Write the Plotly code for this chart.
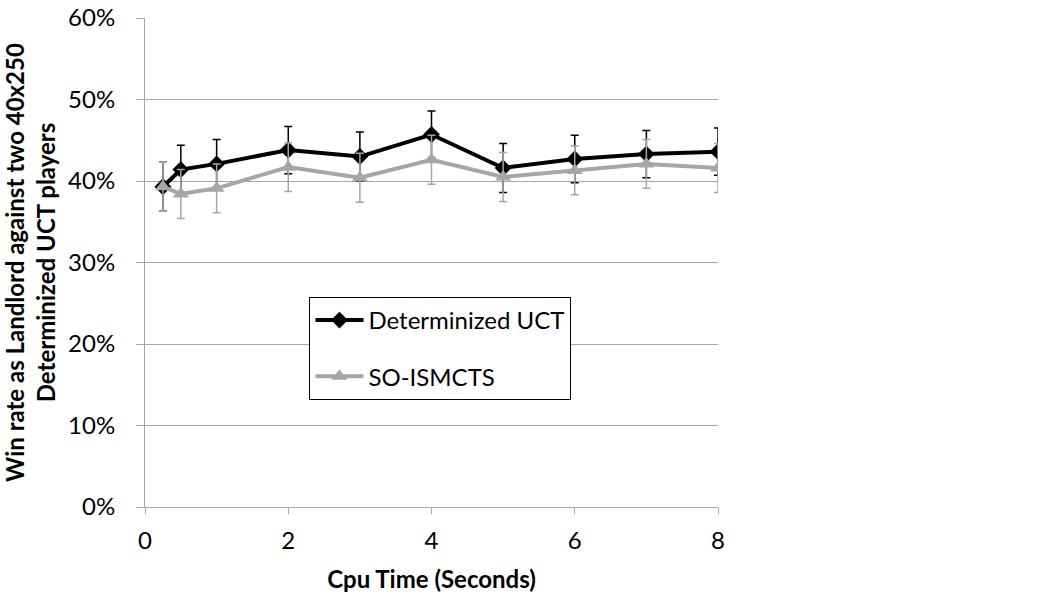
import plotly.graph_objects as go

# CPU time per move (seconds)
cpu_time = [0.25, 0.5, 1, 2, 3, 4, 5, 6, 7, 8]

# Win rate (%) as Landlord against two 40x250 Determinized UCT players
det_uct = [39.3, 41.4, 42.1, 43.8, 43.0, 45.7, 41.6, 42.7, 43.3, 43.6]
det_uct_err = [3.0, 3.0, 3.0, 2.9, 3.0, 2.9, 3.0, 2.9, 2.9, 2.9]

so_ismcts = [39.3, 38.4, 39.1, 41.7, 40.4, 42.6, 40.5, 41.3, 42.1, 41.6]
so_ismcts_err = [3.0, 3.0, 3.0, 3.0, 3.0, 3.0, 3.0, 3.0, 3.0, 3.0]

y_ticks = [0, 10, 20, 30, 40, 50, 60]
x_ticks = [0, 2, 4, 6, 8]

FONT = "Lato"
SIZE = 24
GRID = "#a6a6a6"

fig = go.Figure()

fig.add_trace(go.Scatter(
    x=cpu_time, y=det_uct, name="Determinized UCT", legendgroup="a",
    mode="lines+markers",
    line=dict(color="#000000", width=4),
    marker=dict(symbol="diamond", size=13, color="#000000"),
    error_y=dict(type="data", array=det_uct_err, visible=True,
                 color="#000000", thickness=1.5, width=4),
))

fig.add_trace(go.Scatter(
    x=cpu_time, y=so_ismcts, name="SO-ISMCTS", legendgroup="b",
    mode="lines+markers",
    line=dict(color="#a6a6a6", width=4),
    marker=dict(symbol="triangle-up", size=14, color="#a6a6a6"),
    error_y=dict(type="data", array=so_ismcts_err, visible=True,
                 color="#a6a6a6", thickness=1.5, width=4),
))

fig.update_layout(
    width=1055, height=597,
    margin=dict(l=145, r=337, t=18, b=90, autoexpand=False),
    paper_bgcolor="white", plot_bgcolor="white",
    font=dict(family=FONT, size=SIZE, color="#000000"),
    showlegend=True,
    legend=dict(
        x=0.287, y=0.4294, xanchor="left", yanchor="top",
        bgcolor="white", bordercolor="#000000", borderwidth=1,
        font=dict(family=FONT, size=SIZE, color="#000000"),
        tracegroupgap=22, itemwidth=48,
    ),
)

fig.update_xaxes(
    range=[0, 8], tickvals=x_ticks, ticktext=[str(v) for v in x_ticks],
    showgrid=False, zeroline=False, automargin=False,
    showline=True, linecolor=GRID, linewidth=1,
    ticks="outside", ticklen=6, tickcolor=GRID,
    tickfont=dict(family=FONT, size=SIZE), ticklabelstandoff=6,
    title=dict(text="<b>Cpu Time (Seconds)</b>", font=dict(family=FONT, size=SIZE),
               standoff=18),
)

fig.update_yaxes(
    range=[0, 60], tickvals=y_ticks, ticktext=[f"{v}%" for v in y_ticks],
    showgrid=True, gridcolor=GRID, gridwidth=1, zeroline=False, automargin=False,
    showline=True, linecolor=GRID, linewidth=1,
    ticks="outside", ticklen=8, tickcolor=GRID,
    tickfont=dict(family=FONT, size=SIZE), ticklabelstandoff=16,
    title=dict(text="<b>Win rate as Landlord against two 40x250<br>Determinized UCT players</b>",
               font=dict(family=FONT, size=SIZE), standoff=12),
)

fig.write_html("out.html")
